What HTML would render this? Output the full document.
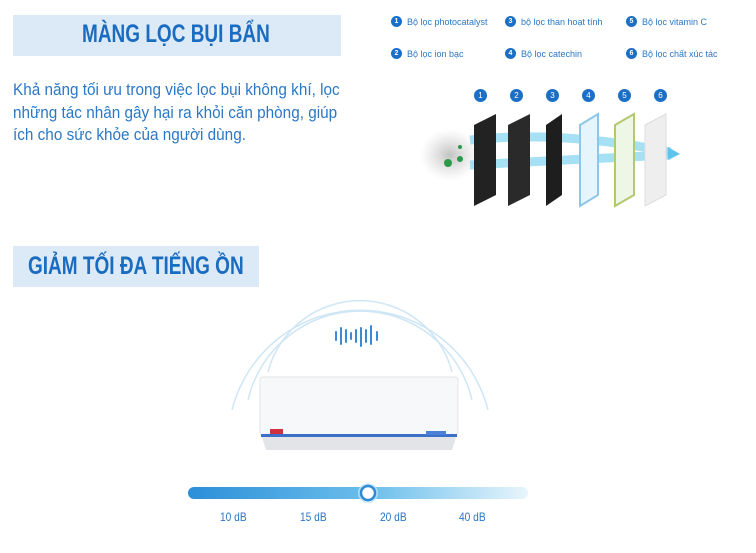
<!DOCTYPE html><html><head><meta charset="utf-8"><style>
body{margin:0;width:756px;height:553px;background:#fff;position:relative;overflow:hidden;font-family:"Liberation Sans",sans-serif}
.a{position:absolute}
.box{background:#dce9f6}
.t{position:absolute;color:#1a6cc0;font-weight:bold;font-size:25px;white-space:nowrap;transform-origin:0 0;transform:scaleX(0.76)}
.pl{position:absolute;left:13px;color:#2a78c6;font-size:17px;white-space:nowrap;transform-origin:0 0;transform:scaleX(0.9)}
.lg{font-size:9px;color:#2a78c6;display:flex;align-items:center;white-space:nowrap}
.lg b{display:inline-block;width:11px;height:11px;border-radius:50%;background:#1b6fc4;color:#fff;font-size:7px;text-align:center;line-height:11px;margin-right:5px}
.n{width:13px;height:13px;border-radius:50%;background:#1b6fc4;color:#fff;font-size:8px;text-align:center;line-height:13px}
.db{font-size:12px;color:#2a78c6;transform:scaleX(.85);transform-origin:0 0}
</style></head><body>
<div class="a box" style="left:13px;top:15px;width:328px;height:41px"></div>
<div class="t" style="left:82px;top:20px">MÀNG LỌC BỤI BẨN</div>
<div class="pl" style="top:80px">Khả năng tối ưu trong việc lọc bụi không khí, lọc</div>
<div class="pl" style="top:103px">những tác nhân gây hại ra khỏi căn phòng, giúp</div>
<div class="pl" style="top:125px">ích cho sức khỏe của người dùng.</div>
<div class="a box" style="left:13px;top:246px;width:246px;height:41px"></div>
<div class="t" style="left:28px;top:252px">GIẢM TỐI ĐA TIẾNG ỒN</div>

<div class="a lg" style="left:391px;top:16px"><b>1</b>Bộ lọc photocatalyst</div>
<div class="a lg" style="left:505px;top:16px"><b>3</b>bộ lọc than hoạt tính</div>
<div class="a lg" style="left:626px;top:16px"><b>5</b>Bộ lọc vitamin C</div>
<div class="a lg" style="left:391px;top:48px"><b>2</b>Bộ lọc ion bạc</div>
<div class="a lg" style="left:505px;top:48px"><b>4</b>Bộ lọc catechin</div>
<div class="a lg" style="left:626px;top:48px"><b>6</b>Bộ lọc chất xúc tác</div>
<div class="a n" style="left:474px;top:89px">1</div><div class="a n" style="left:510px;top:89px">2</div><div class="a n" style="left:546px;top:89px">3</div><div class="a n" style="left:582px;top:89px">4</div><div class="a n" style="left:618px;top:89px">5</div><div class="a n" style="left:654px;top:89px">6</div>
<svg class="a" style="left:0;top:0" width="756" height="553">
<defs><linearGradient id="s" x1="0" x2="1"><stop offset="0" stop-color="#2b8fd8"/><stop offset="0.55" stop-color="#6ec0ec"/><stop offset="1" stop-color="#e8f5fc"/></linearGradient>
<radialGradient id="sm"><stop offset="0" stop-color="#999" stop-opacity=".6"/><stop offset="1" stop-color="#bbb" stop-opacity="0"/></radialGradient></defs>
<ellipse cx="450" cy="155" rx="30" ry="26" fill="url(#sm)"/>
<path d="M470 140 Q560 130 670 152" stroke="#8ed8f2" stroke-width="9" fill="none" opacity=".8"/>
<path d="M470 165 Q560 160 670 155" stroke="#8ed8f2" stroke-width="9" fill="none" opacity=".8"/>
<polygon points="668,147 680,154 668,160" fill="#5ec4ee"/>
<polygon points="474,125 496,114 496,195 474,206" fill="#222"/>
<polygon points="508,125 530,114 530,195 508,206" fill="#2a2a2a"/>
<polygon points="546,125 562,114 562,195 546,206" fill="#1e1e1e"/>
<polygon points="580,125 598,114 598,195 580,206" fill="#e6f4fc" stroke="#8cc6e8" stroke-width="2"/>
<polygon points="615,125 634,114 634,195 615,206" fill="#eef6e6" stroke="#b4c870" stroke-width="2"/>
<polygon points="645,125 666,114 666,195 645,206" fill="#eee" stroke="#ddd"/>
<circle cx="448" cy="163" r="4" fill="#2a9a4a"/><circle cx="460" cy="159" r="3" fill="#2a9a4a"/><circle cx="460" cy="147" r="2" fill="#2a9a4a"/>
<g fill="none" stroke="#cfe6f5" stroke-width="1.5">
<path d="M268 372 A95 95 0 0 1 452 372"/>
<path d="M248 400 A115 115 0 0 1 472 400"/>
<path d="M232 410 A132 132 0 0 1 488 410"/>
</g>
<g stroke="#3a8ad6" stroke-width="2" stroke-linecap="round">
<line x1="336" y1="332" x2="336" y2="340"/><line x1="341" y1="328" x2="341" y2="344"/><line x1="346" y1="330" x2="346" y2="342"/><line x1="351" y1="333" x2="351" y2="339"/><line x1="356" y1="330" x2="356" y2="342"/><line x1="361" y1="328" x2="361" y2="346"/><line x1="366" y1="330" x2="366" y2="342"/><line x1="371" y1="326" x2="371" y2="344"/><line x1="377" y1="332" x2="377" y2="340"/>
</g>
<rect x="260" y="377" width="198" height="58" rx="3" fill="#f7f8fa" stroke="#e2e4e8"/>
<rect x="261" y="434" width="196" height="3" fill="#3b6fc8"/>
<path d="M262 437 H456 L452 450 H266 Z" fill="#e2e4e8"/>
<rect x="270" y="429" width="13" height="5" fill="#d03040"/>
<rect x="426" y="431" width="20" height="4" fill="#4a80d8"/>
<rect x="188" y="487" width="340" height="12" rx="6" fill="url(#s)"/>
<circle cx="368" cy="493" r="10" fill="#bfe2f6" opacity=".8"/>
<circle cx="368" cy="493" r="7" fill="#fff" stroke="#2d8ad4" stroke-width="2.5"/>
</svg>
<div class="a db" style="left:220px;top:510px">10 dB</div>
<div class="a db" style="left:300px;top:510px">15 dB</div>
<div class="a db" style="left:380px;top:510px">20 dB</div>
<div class="a db" style="left:459px;top:510px">40 dB</div>
</body></html>
